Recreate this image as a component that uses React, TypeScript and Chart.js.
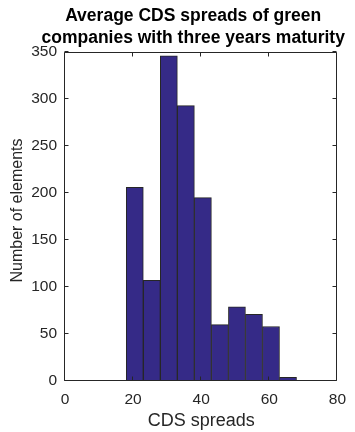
import React, { useEffect, useRef } from "react";
import { Chart, registerables } from "chart.js";

Chart.register(...registerables);

const binCenters = [20.5, 25.5, 30.5, 35.5, 40.5, 45.5, 50.5, 55.5, 60.5, 65.5];
const counts = [206, 107, 346, 293, 195, 60, 79, 71, 58, 4];
const titleLines = ["Average CDS spreads of green", "companies with three years maturity"];
const xLabel = "CDS spreads";
const yLabel = "Number of elements";

const FONT = "'Liberation Sans', Arial, Helvetica, sans-serif";
const AXIS = "#262626";

const boxPlugin = {
  id: "matlabBox",
  afterDatasetsDraw(chart: any) {
    const { ctx, chartArea } = chart;
    const { left, right, top, bottom } = chartArea;
    ctx.save();
    ctx.strokeStyle = AXIS;
    ctx.lineWidth = 1;
    const L = Math.round(left) - 0.5;
    const R = Math.round(right) - 0.5;
    const T = Math.round(top) + 0.5;
    const B = Math.round(bottom) - 0.5;
    ctx.beginPath();
    ctx.rect(L, T, R - L, B - T);
    const tl = 4;
    chart.scales.y.ticks.forEach((t: any) => {
      const y = Math.round(chart.scales.y.getPixelForValue(t.value)) - 0.5;
      ctx.moveTo(L, y);
      ctx.lineTo(L + tl, y);
      ctx.moveTo(R, y);
      ctx.lineTo(R - tl, y);
    });
    chart.scales.x.ticks.forEach((t: any) => {
      const x = Math.round(chart.scales.x.getPixelForValue(t.value)) - 0.5;
      ctx.moveTo(x, B);
      ctx.lineTo(x, B - tl);
      ctx.moveTo(x, T);
      ctx.lineTo(x, T + tl);
    });
    ctx.stroke();
    ctx.restore();
  },
  afterDraw(chart: any) {
    const { ctx, chartArea } = chart;
    ctx.save();
    ctx.fillStyle = "#000";
    ctx.font = `bold 17.5px ${FONT}`;
    ctx.textAlign = "center";
    ctx.textBaseline = "alphabetic";
    const cx = (chartArea.left + chartArea.right) / 2 - 8;
    ctx.fillText(titleLines[0], cx, 21);
    ctx.fillText(titleLines[1], cx, 43);
    // y axis label
    ctx.fillStyle = AXIS;
    ctx.font = `16px ${FONT}`;
    ctx.translate(17.5, (chartArea.top + chartArea.bottom) / 2 - 6);
    ctx.rotate(-Math.PI / 2);
    ctx.textBaseline = "middle";
    ctx.fillText(yLabel, 0, 0);
    ctx.restore();
  },
};

export default function App() {
  const ref = useRef<HTMLCanvasElement>(null);
  useEffect(() => {
    if (!ref.current) return;
    const chart = new Chart(ref.current, {
      type: "bar",
      data: {
        datasets: [
          {
            data: binCenters.map((x, i) => ({ x, y: counts[i] })),
            backgroundColor: "#352a87",
            borderColor: "#262626",
            borderWidth: 1,
            barPercentage: 1,
            categoryPercentage: 1,
          },
        ],
      },
      options: {
        animation: false,
        responsive: false,
        layout: { padding: { top: 52, right: 17, left: 0, bottom: 0 } },
        plugins: { legend: { display: false }, tooltip: { enabled: false }, title: { display: false } },
        scales: {
          x: {
            type: "linear",
            offset: false,
            min: 0,
            max: 80,
            grid: { display: false, drawTicks: false, offset: false },
            border: { display: false },
            ticks: { stepSize: 20, color: AXIS, font: { family: FONT, size: 15.5 }, padding: 9, maxRotation: 0 },
            title: { display: true, text: xLabel, color: AXIS, font: { family: FONT, size: 18 }, padding: { top: 0, bottom: 0 } },
            afterFit: (s: any) => { s.height = 51; },
          },
          y: {
            min: 0,
            max: 350,
            grid: { display: false, drawTicks: false },
            border: { display: false },
            ticks: { stepSize: 50, color: AXIS, font: { family: FONT, size: 15.5 }, padding: 8 },
            title: { display: false, text: yLabel },
            afterFit: (s: any) => { s.width = 65; },
          },
        },
      },
      plugins: [boxPlugin],
    });
    return () => chart.destroy();
  }, []);
  return (
    <div style={{ position: "absolute", left: 0, top: 0, width: 355, height: 432, background: "#fff" }}>
      <canvas ref={ref} width={355} height={432} />
    </div>
  );
}
